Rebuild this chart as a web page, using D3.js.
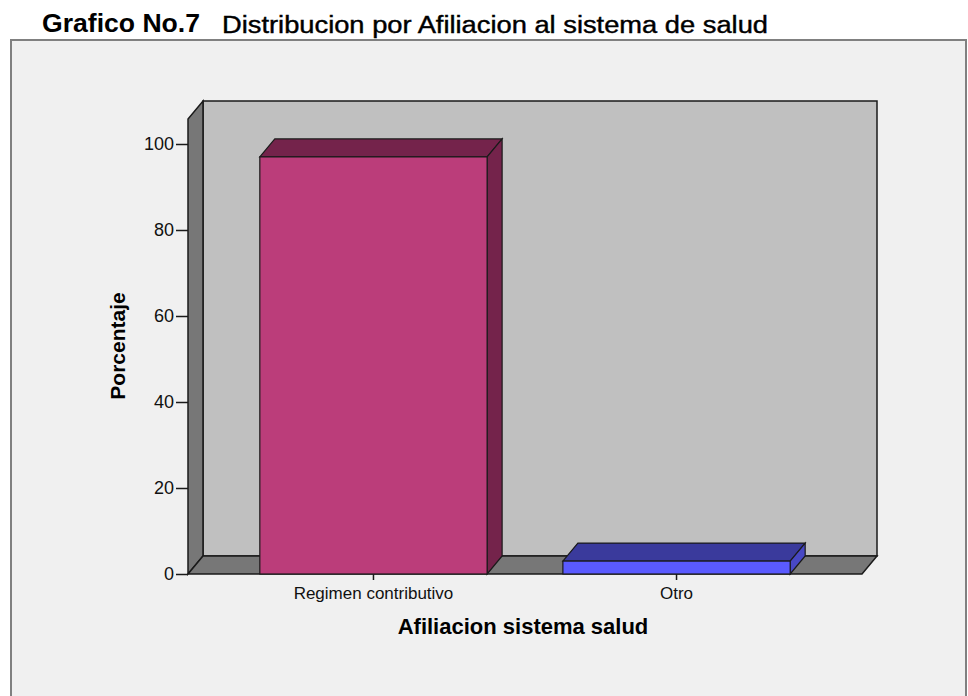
<!DOCTYPE html>
<html><head><meta charset="utf-8">
<script src="https://cdn.jsdelivr.net/npm/d3@7"></script>
<style>body{margin:0;background:#fff;font-family:"Liberation Sans",Arial,sans-serif}</style>
</head><body>
<svg id="c" width="968" height="696"></svg>
<script>
const categories = ["Regimen contributivo", "Otro"];
const values = [97, 3];
const yTicks = [0, 20, 40, 60, 80, 100];
const frontColors = ["#bb3d7a", "#5a5aff"];
const topColors = ["#74234b", "#3a3a9c"];
const sideColors = ["#74234b", "#4848c4"];

const svg = d3.select("#c");
const FONT = "Liberation Sans, Arial, sans-serif";
const dx = 15, dy = 18;
const y = d3.scaleLinear().domain([0, 100]).range([574, 144]);
const x = d3.scaleBand().domain(categories).range([188, 862]).paddingInner(0.25).paddingOuter(0.237);
const x0 = 188, x1 = 862, yMax = 105.8;

// title
svg.append("text").attr("x", 42).attr("y", 32).attr("font-size", 26).attr("font-weight", "bold")
  .attr("textLength", 158).attr("lengthAdjust", "spacingAndGlyphs").text("Grafico No.7");
svg.append("text").attr("x", 222).attr("y", 33).attr("font-size", 23)
  .attr("stroke", "#000").attr("stroke-width", 0.4)
  .attr("textLength", 546).attr("lengthAdjust", "spacingAndGlyphs").text("Distribucion por Afiliacion al sistema de salud");

// frame
svg.append("rect").attr("x", 11).attr("y", 40).attr("width", 955).attr("height", 700)
  .attr("fill", "#f0f0f0").attr("stroke", "#808080").attr("stroke-width", 2);

const line = d3.line();
const stroke = "#1a1a1a";
// back wall
svg.append("path").attr("d", line([[x0+dx, y(yMax)-dy],[x1+dx, y(yMax)-dy],[x1+dx, y(0)-dy],[x0+dx, y(0)-dy]]) + "Z")
  .attr("fill", "#c0c0c0").attr("stroke", stroke).attr("stroke-width", 1.5);
// left wall
svg.append("path").attr("d", line([[x0, y(0)],[x0, y(yMax)],[x0+dx, y(yMax)-dy],[x0+dx, y(0)-dy]]) + "Z")
  .attr("fill", "#777").attr("stroke", stroke).attr("stroke-width", 1.5);
// floor
svg.append("path").attr("d", line([[x0, y(0)],[x0+dx, y(0)-dy],[x1+dx, y(0)-dy],[x1, y(0)]]) + "Z")
  .attr("fill", "#777").attr("stroke", stroke).attr("stroke-width", 1.5);

// bars
const g = svg.append("g");
categories.forEach((c, i) => {
  const bx = x(c), bw = x.bandwidth(), by = y(values[i]), b0 = y(0);
  g.append("path").attr("d", line([[bx, by],[bx+dx, by-dy],[bx+bw+dx, by-dy],[bx+bw, by]]) + "Z")
    .attr("fill", topColors[i]).attr("stroke", stroke).attr("stroke-width", 1.2);
  g.append("path").attr("d", line([[bx+bw, by],[bx+bw+dx, by-dy],[bx+bw+dx, b0-dy],[bx+bw, b0]]) + "Z")
    .attr("fill", sideColors[i]).attr("stroke", stroke).attr("stroke-width", 1.2);
  g.append("rect").attr("x", bx).attr("y", by).attr("width", bw).attr("height", b0 - by)
    .attr("fill", frontColors[i]).attr("stroke", stroke).attr("stroke-width", 1.2);
});

// y axis
const ya = svg.append("g").attr("transform", `translate(${x0},0)`)
  .call(d3.axisLeft(y).tickValues(yTicks).tickSize(12).tickPadding(2).tickFormat(d3.format("d")));
ya.select(".domain").remove();
ya.selectAll("line").attr("stroke", stroke).attr("stroke-width", 1.5);
ya.selectAll("text").attr("font-size", 18).attr("font-family", FONT).attr("fill", "#111");

// x axis
const xa = svg.append("g").attr("transform", `translate(0,${y(0)})`)
  .call(d3.axisBottom(x).tickSize(6).tickPadding(7));
xa.select(".domain").remove();
xa.selectAll("line").attr("stroke", stroke).attr("stroke-width", 1.5);
xa.selectAll("text").attr("font-size", 17).attr("font-family", FONT).attr("fill", "#111");

// axis titles
svg.append("text").attr("x", 523).attr("y", 634).attr("text-anchor", "middle").attr("font-size", 22).attr("font-weight", "bold").text("Afiliacion sistema salud");
svg.append("text").attr("transform", "translate(125,346) rotate(-90)").attr("text-anchor", "middle").attr("font-size", 21).attr("font-weight", "bold").text("Porcentaje");
</script>
</body></html>
